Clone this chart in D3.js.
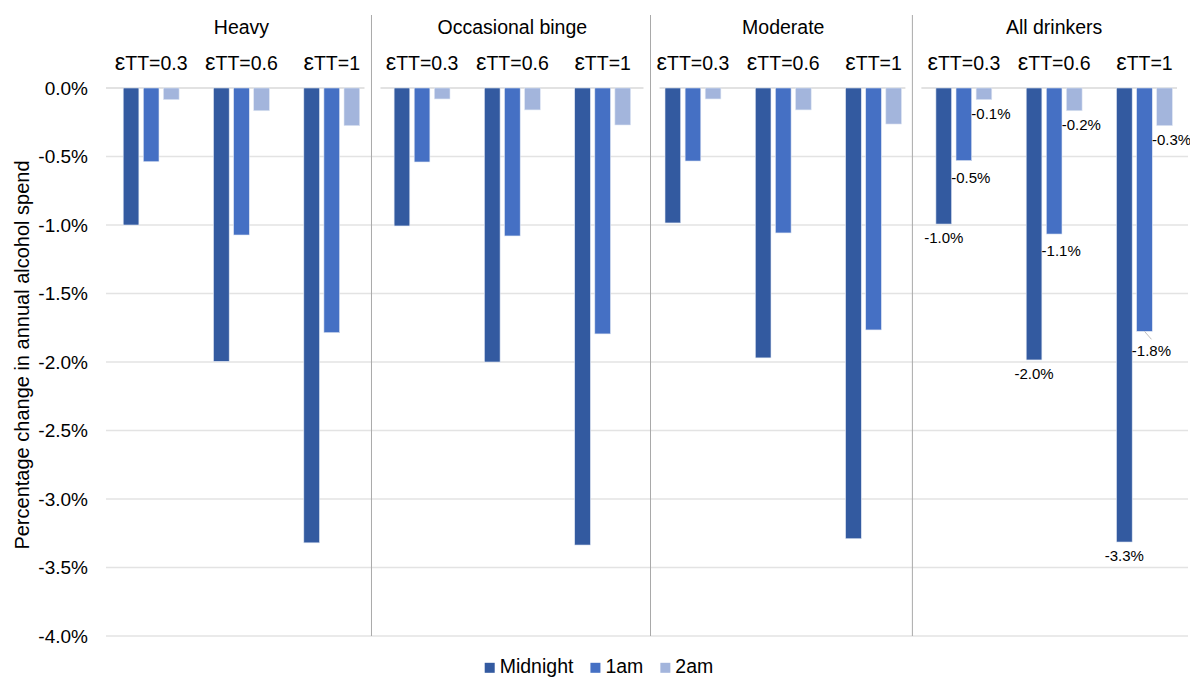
<!DOCTYPE html>
<html>
<head>
<meta charset="utf-8">
<script src="https://cdn.jsdelivr.net/npm/d3@7"></script>
<style>
  body { margin: 0; background: #fff; }
  svg { display: block; font-family: "Liberation Sans", Arial, Helvetica, sans-serif; }
</style>
</head>
<body>
<svg id="chart" width="1190" height="677"></svg>
<script>
// ---------------- DATA ----------------
const panels = ["Heavy", "Occasional binge", "Moderate", "All drinkers"];
const thresholds = ["εTT=0.3", "εTT=0.6", "εTT=1"];
const seriesNames = ["Midnight", "1am", "2am"];
// values in % (panel-major order: Heavy x3, Occasional binge x3, Moderate x3, All drinkers x3)
const midnight = [-1.00, -1.995, -3.32,  -1.007, -2.00, -3.336,  -0.985, -1.97, -3.29,  -0.993, -1.985, -3.314];
const oneAm    = [-0.538, -1.073, -1.786, -0.54, -1.08, -1.795,  -0.533, -1.058, -1.766, -0.53, -1.066, -1.776];
const twoAm    = [-0.085, -0.166, -0.275, -0.08, -0.16, -0.27,   -0.08, -0.16, -0.263,  -0.085, -0.166, -0.275];
const yTicks = [0, -0.5, -1.0, -1.5, -2.0, -2.5, -3.0, -3.5, -4.0];
const labelledPanel = "All drinkers";
const yTitle = "Percentage change in annual alcohol spend";
const dividerAt = [2.94, 6.03, 8.93]; // panel divider positions in category units

// ---------------- SETUP ----------------
const W = 1190, H = 677;
const plot = { left: 106, right: 1189.6, top: 88, bottom: 636 };
const colors = { "Midnight": "#335aa0", "1am": "#4570c4", "2am": "#a3b5dc" };
const svg = d3.select("#chart");
const locale = d3.formatLocale({ decimal: ".", thousands: ",", grouping: [3], currency: ["", ""], minus: "-" });
const fmt = v => locale.format(".1f")(v) + "%";

const cats = [];
panels.forEach((p, pi) => thresholds.forEach((t, ti) => {
  const i = pi * thresholds.length + ti;
  cats.push({ key: p + "|" + t, panel: p, threshold: t, ti,
    values: [midnight[i], oneAm[i], twoAm[i]] });
}));

const x0 = d3.scaleBand().domain(cats.map(d => d.key)).range([plot.left, plot.right]).padding(0);
const x1 = d3.scaleBand().domain(seriesNames).range([15, 75.3]).paddingInner(0.22).paddingOuter(0.11);
const y = d3.scaleLinear().domain([-4, 0]).range([plot.bottom, plot.top]);
const catUnit = d3.scaleLinear().domain([0, cats.length]).range([plot.left, plot.right]);

// gridlines (excluding zero)
svg.append("g").selectAll("line").data(yTicks.filter(v => v !== 0)).join("line")
  .attr("x1", plot.left).attr("x2", 1188)
  .attr("y1", d => y(d)).attr("y2", d => y(d))
  .attr("stroke", "#e3e3e3").attr("stroke-width", 1.3);

// zero line, one segment per panel
const divX = dividerAt.map(d => catUnit(d));
const segs = panels.map((p, i) => ({
  x1: i === 0 ? plot.left : divX[i - 1] + 9,
  x2: i === panels.length - 1 ? 1177 : divX[i] - 7
}));
svg.append("g").selectAll("line").data(segs).join("line")
  .attr("x1", d => d.x1).attr("x2", d => d.x2)
  .attr("y1", y(0)).attr("y2", y(0))
  .attr("stroke", "#d9d9d9").attr("stroke-width", 1.3);

// dividers
svg.append("g").selectAll("line").data(divX).join("line")
  .attr("x1", d => d).attr("x2", d => d)
  .attr("y1", 15).attr("y2", plot.bottom)
  .attr("stroke", "#a9a9a9").attr("stroke-width", 1);

// y-axis labels
const yAxis = d3.axisLeft(y).tickValues(yTicks).tickSize(0).tickPadding(0).tickFormat(fmt);
const ya = svg.append("g").attr("transform", `translate(88,0)`).call(yAxis);
ya.select(".domain").remove();
ya.selectAll("text").attr("font-size", 19).attr("fill", "#000")
  .attr("font-family", '"Liberation Sans", Arial, sans-serif');

// y-axis title
svg.append("text")
  .attr("transform", `translate(22,355) rotate(-90)`)
  .attr("text-anchor", "middle").attr("dy", "0.35em")
  .attr("font-size", 20).attr("fill", "#000").text(yTitle);

// bars
const groups = svg.append("g").selectAll("g").data(cats).join("g")
  .attr("transform", d => `translate(${x0(d.key)},0)`);
groups.selectAll("rect").data(d => d.values.map((v, si) => ({ v, s: seriesNames[si] })))
  .join("rect")
  .attr("x", d => x1(d.s)).attr("width", x1.bandwidth())
  .attr("y", y(0)).attr("height", d => y(d.v) - y(0))
  .attr("fill", d => colors[d.s])
  .attr("stroke", "#dfe6f3").attr("stroke-width", 0.6);

// panel headers
svg.append("g").selectAll("text").data(panels).join("text")
  .attr("x", (p, i) => x0(cats[i * 3].key) + x0.step() * 1.5)
  .attr("y", 33.5).attr("text-anchor", "middle")
  .attr("font-size", 19.5).attr("fill", "#000").text(d => d);

// threshold headers (epsilon drawn at cap height, as in the original)
const th = svg.append("g").selectAll("text").data(cats).join("text")
  .attr("x", d => x0(d.key) + x0.bandwidth() / 2)
  .attr("y", 70).attr("text-anchor", "middle")
  .attr("font-size", 19.5).attr("fill", "#000");
th.append("tspan").attr("font-size", 23.5).text(d => d.threshold.slice(0, 1));
th.append("tspan").text(d => d.threshold.slice(1));

// data labels for All drinkers
const labelDx = [0, 7, 7];
const labelDy = [14, 17, 14];
const lab = [];
cats.filter(c => c.panel === labelledPanel).forEach(c => {
  c.values.forEach((v, si) => {
    const cx = x0(c.key) + x1(seriesNames[si]) + x1.bandwidth() / 2;
    lab.push({ v, si, ti: c.ti, cx, by: y(v) });
  });
});
// leader line for the displaced label (εTT=1, 1am)
const leaders = lab.filter(d => d.ti === 2 && d.si === 1);
svg.append("g").selectAll("line").data(leaders).join("line")
  .attr("x1", d => d.cx).attr("y1", d => d.by)
  .attr("x2", d => d.cx + 7).attr("y2", d => d.by + 8)
  .attr("stroke", "#bfbfbf").attr("stroke-width", 1);
svg.append("g").selectAll("text").data(lab).join("text")
  .attr("x", d => d.cx + labelDx[d.si])
  .attr("y", d => d.by + labelDy[d.si] + (d.ti === 2 && d.si === 1 ? 2 : 0))
  .attr("dy", "0.35em").attr("text-anchor", "middle")
  .attr("font-size", 15).attr("fill", "#000").text(d => fmt(d.v));

// legend
const legend = svg.append("g");
let lx = 0;
seriesNames.forEach(s => {
  const g = legend.append("g").attr("transform", `translate(${lx},0)`);
  g.append("rect").attr("x", 0).attr("y", -10.5).attr("width", 10).attr("height", 10).attr("fill", colors[s]);
  const t = g.append("text").attr("x", 15).attr("y", 0).attr("font-size", 19.5).attr("fill", "#000").text(s);
  const w = t.node().getComputedTextLength();
  lx += 15 + w + 17;
});
const legendW = lx - 17;
legend.attr("transform", `translate(${599 - legendW / 2},673.3)`);
</script>
</body>
</html>
